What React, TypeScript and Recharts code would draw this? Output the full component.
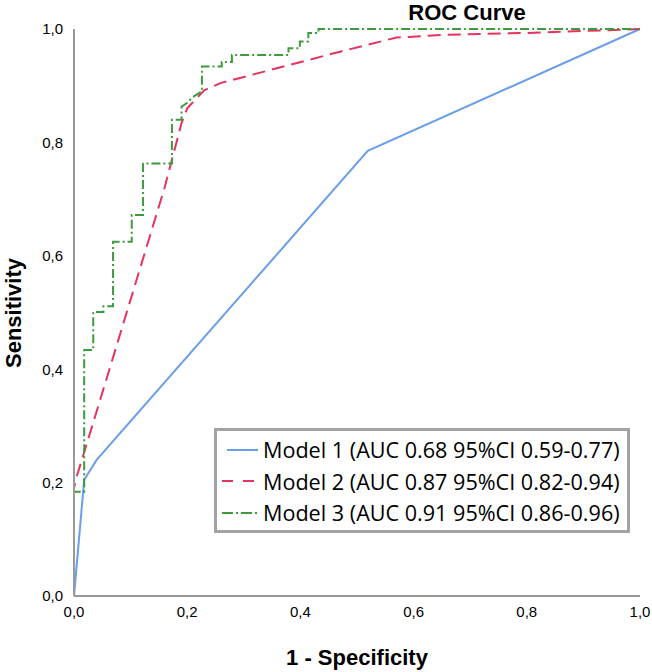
import React from 'react';
import { LineChart, Line, XAxis, YAxis, Legend, Label } from 'recharts';

// axis ticks shared by both axes
const axisTicks = [0, 0.2, 0.4, 0.6, 0.8, 1];

// Model 1 (blue, solid)
const model1Fpr = [0, 0.018, 0.04, 0.519, 1];
const model1Tpr = [0, 0.205, 0.24, 0.785, 1];

// Model 2 (red, dashed)
const model2Fpr = [0, 0, 0.004, 0.031, 0.16, 0.19, 0.2, 0.23, 0.26, 0.47, 0.57, 0.66, 0.8, 1];
const model2Tpr = [0, 0.19, 0.208, 0.296, 0.72, 0.834, 0.86, 0.892, 0.905, 0.96, 0.985, 0.99, 0.993, 1];

// Model 3 (green, dash-dot) - step curve
const model3Fpr = [
  0, 0, 0.018, 0.018, 0.034, 0.034, 0.052, 0.052, 0.069, 0.069, 0.102, 0.102, 0.122, 0.122,
  0.173, 0.173, 0.19, 0.19, 0.2, 0.21, 0.226, 0.226, 0.261, 0.261, 0.279, 0.279, 0.379, 0.379,
  0.399, 0.399, 0.414, 0.414, 0.432, 0.432, 1,
];
const model3Tpr = [
  0, 0.184, 0.184, 0.434, 0.434, 0.501, 0.501, 0.511, 0.511, 0.625, 0.625, 0.672, 0.672, 0.763,
  0.763, 0.84, 0.84, 0.863, 0.87, 0.88, 0.89, 0.934, 0.934, 0.942, 0.942, 0.954, 0.954, 0.966,
  0.966, 0.978, 0.978, 0.993, 0.993, 1, 1,
];

const seriesNames = [
  'Model 1 (AUC 0.68 95%CI 0.59-0.77)',
  'Model 2 (AUC 0.87 95%CI 0.82-0.94)',
  'Model 3 (AUC 0.91 95%CI 0.86-0.96)',
];

const toPoints = (xs: number[], ys: number[]) => xs.map((x, i) => ({ x, y: ys[i] }));

const formatTick = (v: number) => v.toFixed(1).replace('.', ',');

const series = [
  { name: seriesNames[0], data: toPoints(model1Fpr, model1Tpr), color: '#6a9ee8', dash: undefined, legendDash: undefined, legendStart: 5 },
  { name: seriesNames[1], data: toPoints(model2Fpr, model2Tpr), color: '#e4335f', dash: '13 7', legendDash: '11 10', legendStart: 0 },
  { name: seriesNames[2], data: toPoints(model3Fpr, model3Tpr), color: '#3d9a3d', dash: '9 3 2 3', legendDash: '11 3 2 3', legendStart: 0 },
];

const tickStyle = { fill: '#000', fontSize: 15, fontFamily: '"Liberation Sans", Arial, sans-serif' };
const titleFont = '"Liberation Sans", Arial, sans-serif';

const RocLegend = () => (
  <div
    style={{
      boxSizing: 'border-box',
      width: 416,
      height: 105,
      border: '3px solid #a3a3a3',
      background: '#fff',
      paddingTop: 3,
      fontFamily: '"Open Sans", sans-serif',
      fontSize: 21.6,
      color: '#000',
    }}
  >
    {series.map((s) => (
      <div key={s.name} style={{ display: 'flex', alignItems: 'center', height: 31.5, whiteSpace: 'nowrap' }}>
        <svg width={36} height={10} style={{ marginLeft: 5, marginRight: 5, flex: 'none' }}>
          <line x1={s.legendStart} y1={5} x2={36} y2={5} stroke={s.color} strokeWidth={2} strokeDasharray={s.legendDash} />
        </svg>
        <span>{s.name}</span>
      </div>
    ))}
  </div>
);

export default function App() {
  return (
    <div style={{ position: 'absolute', left: 0, top: 0, width: 652, height: 672, background: '#fff' }}>
      <div
        style={{
          position: 'absolute',
          left: 340,
          top: 0,
          width: 254,
          textAlign: 'center',
          fontFamily: titleFont,
          fontWeight: 'bold',
          fontSize: 22,
          lineHeight: '25px',
          zIndex: 2,
        }}
      >
        ROC Curve
      </div>
      <LineChart width={652} height={672} margin={{ top: 29, right: 12, bottom: 36, left: 0 }}>
        <XAxis
          type="number"
          dataKey="x"
          domain={[0, 1]}
          ticks={axisTicks}
          tickFormatter={formatTick}
          tick={tickStyle}
          tickLine={false}
          tickSize={0}
          tickMargin={10}
          height={40}
          axisLine={{ stroke: '#999', strokeWidth: 2 }}
        >
          <Label
            content={() => (
              <text x={357} y={665} textAnchor="middle" fontFamily={titleFont} fontWeight="bold" fontSize={22} fill="#000">
                1 - Specificity
              </text>
            )}
          />
        </XAxis>
        <YAxis
          type="number"
          dataKey="y"
          domain={[0, 1]}
          ticks={axisTicks}
          tickFormatter={formatTick}
          tick={tickStyle}
          tickLine={false}
          tickSize={0}
          tickMargin={11}
          width={74}
          axisLine={{ stroke: '#999', strokeWidth: 2 }}
        >
          <Label
            content={() => (
              <text
                x={21}
                y={313}
                transform="rotate(-90 21 313)"
                textAnchor="middle"
                fontFamily={titleFont}
                fontWeight="bold"
                fontSize={22}
                fill="#000"
              >
                Sensitivity
              </text>
            )}
          />
        </YAxis>
        <Legend
          layout="vertical"
          align="center"
          verticalAlign="middle"
          content={() => <RocLegend />}
          wrapperStyle={{ left: 214, top: 428, width: 416, height: 105 }}
        />
        {series.map((s) => (
          <Line
            key={s.name}
            data={s.data}
            dataKey="y"
            name={s.name}
            type="linear"
            stroke={s.color}
            strokeWidth={2}
            strokeDasharray={s.dash}
            dot={false}
            activeDot={false}
            isAnimationActive={false}
          />
        ))}
      </LineChart>
    </div>
  );
}
